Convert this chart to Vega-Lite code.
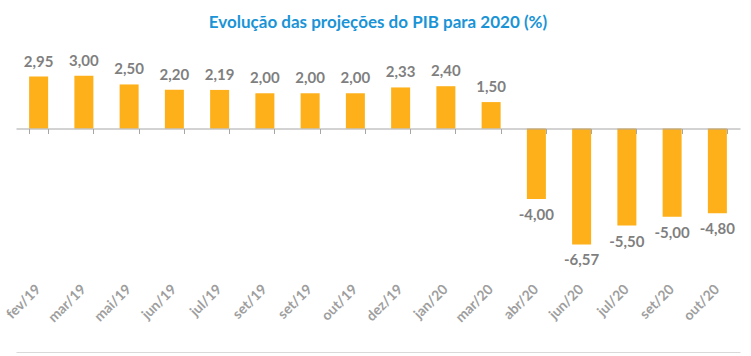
{
  "$schema": "https://vega.github.io/schema/vega-lite/v6.json",
  "autosize": "none",
  "width": 724,
  "height": 194,
  "padding": {"left": 16, "top": 58, "right": 11, "bottom": 104},
  "background": "#ffffff",
  "title": {
    "text": "Evolução das projeções do PIB para 2020 (%)",
    "fontSize": 17,
    "fontWeight": "bold",
    "color": "#1A94D6",
    "font": "Lato",
    "anchor": "middle",
    "offset": 22
  },
  "config": {
    "font": "Lato",
    "view": {"stroke": null},
    "locale": {
      "number": {"decimal": ",", "thousands": ".", "grouping": [3], "currency": ["R$", ""], "minus": "-"}
    }
  },
  "data": {
    "values": [
      {"mes": "fev/19", "v": 2.95},
      {"mes": "mar/19", "v": 3.00},
      {"mes": "mai/19", "v": 2.50},
      {"mes": "jun/19", "v": 2.20},
      {"mes": "jul/19", "v": 2.19},
      {"mes": "set/19", "v": 2.00},
      {"mes": "set/19\u200b", "v": 2.00},
      {"mes": "out/19", "v": 2.00},
      {"mes": "dez/19", "v": 2.33},
      {"mes": "jan/20", "v": 2.40},
      {"mes": "mar/20", "v": 1.50},
      {"mes": "abr/20", "v": -4.00},
      {"mes": "jun/20", "v": -6.57},
      {"mes": "jul/20", "v": -5.50},
      {"mes": "set/20", "v": -5.00},
      {"mes": "out/20", "v": -4.80}
    ]
  },
  "resolve": {"axis": {"x": "independent"}},
  "layer": [
    {
      "mark": {"type": "bar", "color": "#FDB019"},
      "encoding": {
        "x": {
          "field": "mes", "type": "nominal", "sort": null,
          "scale": {"paddingInner": 0.58, "paddingOuter": 0.29},
          "axis": {
            "orient": "bottom", "offset": 100, "title": null,
            "domainColor": "#D9D9D9", "domainWidth": 1, "ticks": false,
            "labelAngle": -45, "labelAlign": "right", "labelBaseline": "middle",
            "labelPadding": -65, "labelFontSize": 14, "labelFontWeight": "bold", "labelColor": "#9E9E9E"
          }
        },
        "y": {"field": "v", "type": "quantitative", "scale": {"domain": [-7, 4]}, "axis": null}
      }
    },
    {
      "transform": [{"filter": "datum.v >= 0"}],
      "mark": {"type": "text", "baseline": "middle", "dy": -15, "fontSize": 15, "fontWeight": "bold", "color": "#7F7F7F"},
      "encoding": {
        "x": {
          "field": "mes", "type": "nominal", "sort": null,
          "axis": {
            "orient": "bottom", "offset": -123.5, "title": null, "labels": false,
            "domainColor": "#A6A6A6", "domainWidth": 1, "ticks": true, "tickBand": "extent",
            "tickSize": 5, "tickColor": "#A6A6A6", "zindex": 1
          }
        },
        "y": {"field": "v", "type": "quantitative"},
        "text": {"field": "v", "type": "quantitative", "format": ".2f"}
      }
    },
    {
      "transform": [{"filter": "datum.v < 0"}],
      "mark": {"type": "text", "baseline": "middle", "dy": 16, "fontSize": 15, "fontWeight": "bold", "color": "#7F7F7F"},
      "encoding": {
        "x": {"field": "mes", "type": "nominal", "sort": null, "axis": null},
        "y": {"field": "v", "type": "quantitative"},
        "text": {"field": "v", "type": "quantitative", "format": ".2f"}
      }
    }
  ]
}
